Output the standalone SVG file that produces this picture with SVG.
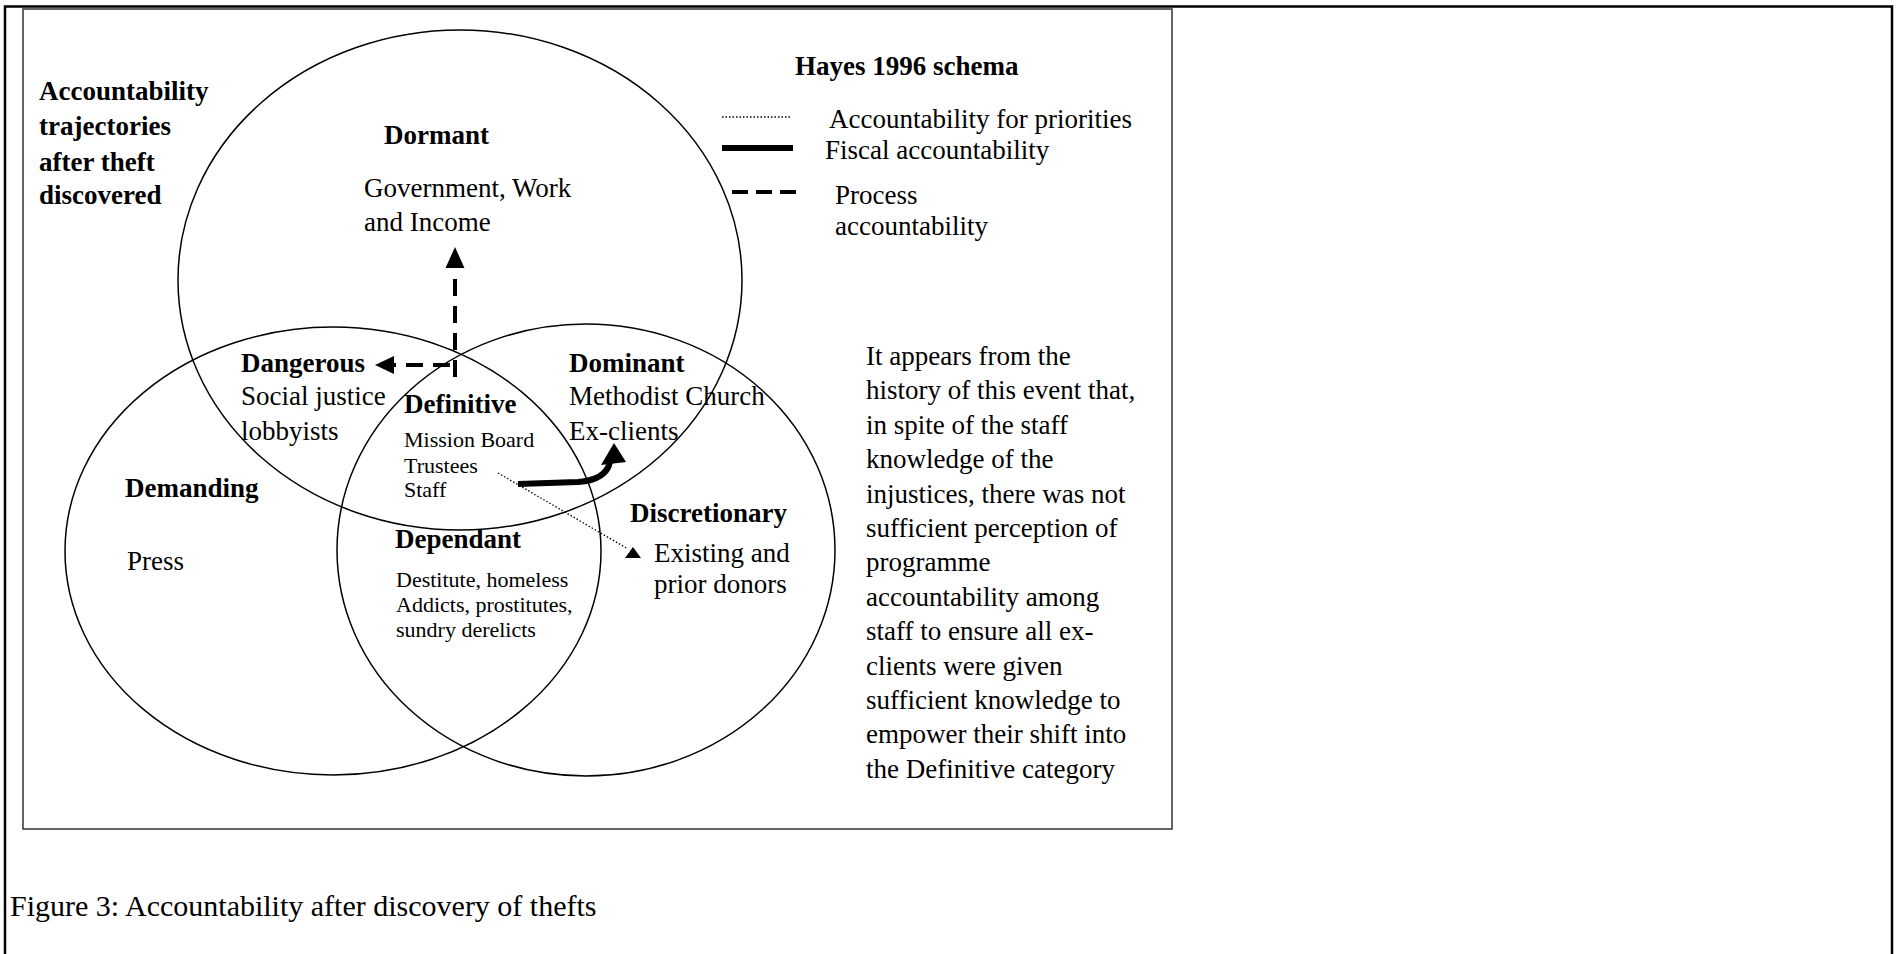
<svg xmlns="http://www.w3.org/2000/svg" width="1897" height="954" viewBox="0 0 1897 954">
<style>
text{font-family:"Liberation Serif","Times New Roman",serif;fill:#000;font-size:27px}
.b{font-weight:bold}
.s{font-size:22px}
.ring{fill:none;stroke:#000;stroke-width:1.5}
.frame{fill:none;stroke:#000;stroke-width:2.5}
.box{fill:none;stroke:#333;stroke-width:1.5}
.proc{fill:none;stroke:#000;stroke-width:4;stroke-dasharray:17 10}
.fisc{fill:none;stroke:#000;stroke-width:6}
.prio{fill:none;stroke:#000;stroke-width:1.3;stroke-dasharray:1.5 2}
</style>
<rect width="1897" height="954" fill="#fff"/>
<g id="frame">
<rect class="frame" x="5" y="6.5" width="1887" height="960"/>
<rect class="box" x="23" y="9" width="1149" height="820"/>
</g>
<g id="title">
<text class="b" x="39" y="100">Accountability</text>
<text class="b" x="39" y="135">trajectories</text>
<text class="b" x="39" y="171">after theft</text>
<text class="b" x="39" y="204">discovered</text>
</g>
<g id="dormant">
<ellipse class="ring" cx="460" cy="280" rx="282" ry="250"/>
<text class="b" x="384" y="144">Dormant</text>
<text x="364" y="197">Government, Work</text>
<text x="364" y="231">and Income</text>
</g>
<g id="demanding">
<ellipse class="ring" cx="333" cy="551" rx="268" ry="224"/>
<text class="b" x="125" y="497">Demanding</text>
<text x="127" y="570">Press</text>
</g>
<g id="discretionary">
<ellipse class="ring" cx="586" cy="550" rx="249" ry="226"/>
<text class="b" x="630" y="522">Discretionary</text>
<text x="654" y="562">Existing and</text>
<text x="654" y="593">prior donors</text>
</g>
<g id="dangerous">
<text class="b" x="241" y="372">Dangerous</text>
<text x="241" y="405">Social justice</text>
<text x="241" y="440">lobbyists</text>
</g>
<g id="dominant">
<text class="b" x="569" y="372">Dominant</text>
<text x="569" y="405">Methodist Church</text>
<text x="569" y="440">Ex-clients</text>
</g>
<g id="definitive">
<text class="b" x="404" y="413">Definitive</text>
<text class="s" x="404" y="447">Mission Board</text>
<text class="s" x="404" y="473">Trustees</text>
<text class="s" x="404" y="497">Staff</text>
</g>
<g id="dependant">
<text class="b" x="395" y="548">Dependant</text>
<text class="s" x="396" y="587">Destitute, homeless</text>
<text class="s" x="396" y="612">Addicts, prostitutes,</text>
<text class="s" x="396" y="637">sundry derelicts</text>
</g>
<g id="legend">
<text class="b" x="795" y="75">Hayes 1996 schema</text>
<line class="prio" x1="722" y1="117" x2="791" y2="117"/>
<text x="829" y="128">Accountability for priorities</text>
<line class="fisc" x1="722" y1="148" x2="793" y2="148"/>
<text x="825" y="159">Fiscal accountability</text>
<line class="proc" x1="732" y1="192" x2="802" y2="192" style="stroke-dasharray:16 8"/>
<text x="835" y="204">Process</text>
<text x="835" y="235">accountability</text>
</g>
<g id="note">
<text x="866" y="365">It appears from the</text>
<text x="866" y="399.4">history of this event that,</text>
<text x="866" y="433.8">in spite of the staff</text>
<text x="866" y="468.2">knowledge of the</text>
<text x="866" y="502.6">injustices, there was not</text>
<text x="866" y="537">sufficient perception of</text>
<text x="866" y="571.4">programme</text>
<text x="866" y="605.8">accountability among</text>
<text x="866" y="640.2">staff to ensure all ex-</text>
<text x="866" y="674.6">clients were given</text>
<text x="866" y="709">sufficient knowledge to</text>
<text x="866" y="743.4">empower their shift into</text>
<text x="866" y="777.8">the Definitive category</text>
</g>
<g id="connectors">
<path class="proc" d="M455,377 V270"/>
<polygon points="455,247 445.5,268 464.5,268"/>
<path class="proc" d="M450,365 H392"/>
<polygon points="375,365 394,356 394,374"/>
<path class="fisc" d="M518,484 L578,482 Q606,480 610,462"/>
<polygon points="614,443 601,465 626,462"/>
<line class="prio" x1="498" y1="473" x2="628" y2="549"/>
<polygon points="633,547 625,558 641,558"/>
</g>
<text id="caption" x="10" y="916" style="font-size:30px">Figure 3: Accountability after discovery of thefts</text>
</svg>
